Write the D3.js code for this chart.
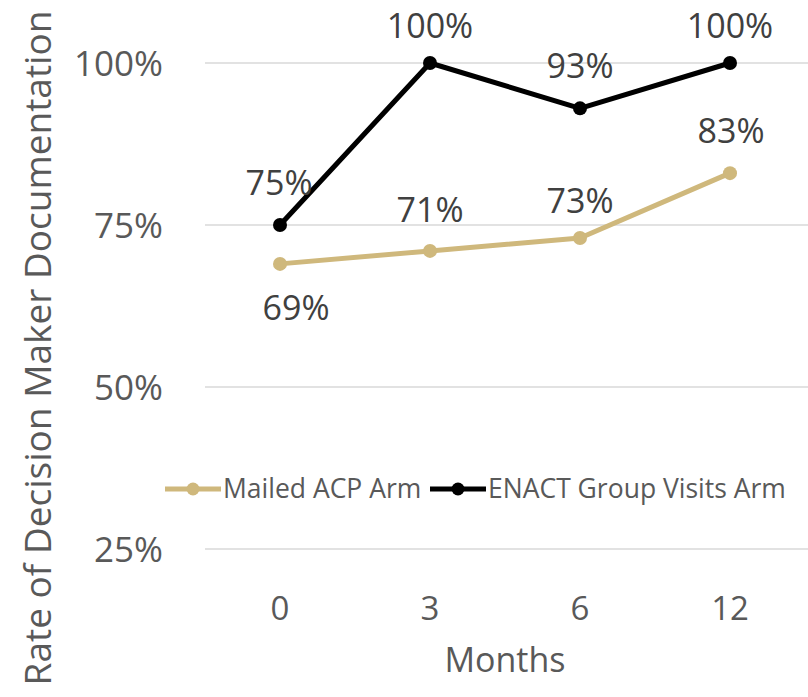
<!DOCTYPE html>
<html>
<head>
<meta charset="utf-8">
<script src="https://cdn.jsdelivr.net/npm/d3@7"></script>
<style>
  body { margin: 0; background: #fff; }
  text { font-family: "Open Sans", "Lato", sans-serif; fill: #595959; }
</style>
</head>
<body>
<svg id="chart" width="808" height="697"></svg>
<script>
// data
var months = ["0", "3", "6", "12"];
var mailedArm = [0.69, 0.71, 0.73, 0.83];
var enactArm = [0.75, 1.00, 0.93, 1.00];
var seriesNames = ["Mailed ACP Arm", "ENACT Group Visits Arm"];
var yTicks = [0.25, 0.50, 0.75, 1.00];

var colors = ["#CFB87C", "#000000"];

var svg = d3.select("#chart");

var x = d3.scaleBand().domain(months).range([205, 805]);
var y = d3.scaleLinear().domain([0.25, 1.0]).range([549, 63]);

/**
Gridlines + y tick labels
*/
svg.append("g").selectAll("line")
  .data(yTicks)
  .enter().append("line")
  .attr("x1", 205).attr("x2", 808)
  .attr("y1", function(d) { return y(d); })
  .attr("y2", function(d) { return y(d); })
  .style("stroke", "#d9d9d9")
  .style("stroke-width", "1.5px");

svg.append("g").selectAll("text")
  .data(yTicks)
  .enter().append("text")
  .attr("x", 163)
  .attr("y", function(d) { return y(d) + 13; })
  .attr("text-anchor", "end")
  .style("font-size", "35px")
  .text(function(d) { return d3.format(".0%")(d); });

// x tick labels
svg.append("g").selectAll("text")
  .data(months)
  .enter().append("text")
  .attr("x", function(d) { return x(d) + x.bandwidth() / 2; })
  .attr("y", 620)
  .attr("text-anchor", "middle")
  .style("font-size", "33px")
  .text(function(d) { return d; });

// axis titles
svg.append("text")
  .attr("x", 505).attr("y", 672)
  .attr("text-anchor", "middle")
  .style("font-size", "34px")
  .text("Months");

svg.append("text")
  .attr("transform", "translate(51,348) rotate(-90)")
  .attr("text-anchor", "middle")
  .style("font-size", "37px")
  .text("Rate of Decision Maker Documentation");

/**
Lines and markers
*/
var line = d3.line()
  .x(function(d, i) { return x(months[i]) + x.bandwidth() / 2; })
  .y(function(d) { return y(d); });

[mailedArm, enactArm].forEach(function(values, s) {
  var g = svg.append("g");
  g.append("path")
    .attr("d", line(values))
    .style("fill", "none")
    .style("stroke", colors[s])
    .style("stroke-width", "5px")
    .style("stroke-linejoin", "round");
  g.selectAll("circle")
    .data(values)
    .enter().append("circle")
    .attr("cx", function(d, i) { return x(months[i]) + x.bandwidth() / 2; })
    .attr("cy", function(d) { return y(d); })
    .attr("r", 7)
    .style("fill", colors[s]);
});

/**
Data labels (offsets per point)
*/
var mailedOffsets = [[16, 56], [0, -29], [0, -25], [1, -30]];
var enactOffsets = [[-1, -30], [0, -25], [0, -30], [0, -25]];

function addLabels(values, offsets) {
  svg.append("g").selectAll("text")
    .data(values)
    .enter().append("text")
    .attr("x", function(d, i) { return x(months[i]) + x.bandwidth() / 2 + offsets[i][0]; })
    .attr("y", function(d, i) { return y(d) + offsets[i][1]; })
    .attr("text-anchor", "middle")
    .style("font-size", "34px")
    .style("fill", "#404040")
    .text(function(d) { return d3.format(".0%")(d); });
}
addLabels(mailedArm, mailedOffsets);
addLabels(enactArm, enactOffsets);

/**
Legend
*/
var legendItems = [{x: 165, name: seriesNames[0]}, {x: 430, name: seriesNames[1]}];
var legend = svg.append("g").selectAll("g")
  .data(legendItems)
  .enter().append("g")
  .attr("transform", function(d) { return "translate(" + d.x + ",489)"; });
legend.append("line")
  .attr("x1", 0).attr("x2", 56)
  .style("stroke", function(d, i) { return colors[i]; })
  .style("stroke-width", "5px");
legend.append("circle")
  .attr("cx", 28).attr("r", 6.5)
  .style("fill", function(d, i) { return colors[i]; });
legend.append("text")
  .attr("x", 58).attr("y", 9)
  .style("font-size", "26.5px")
  .text(function(d) { return d.name; });
</script>
</body>
</html>
